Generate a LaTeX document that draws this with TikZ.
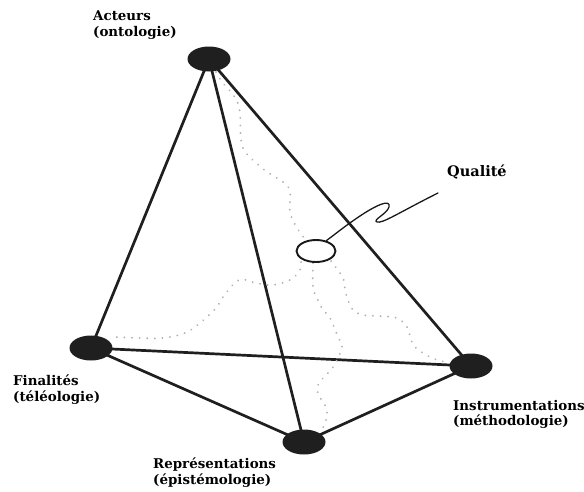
\documentclass[tikz,border=0pt]{standalone}
\usepackage{fontspec}
\setmainfont{DejaVu Serif}
\usetikzlibrary{shapes.geometric}
\pgfdeclarelayer{back}
\pgfsetlayers{back,main}
\begin{document}
\begin{tikzpicture}[x=1pt,y=-1pt,
  vertex/.style={ellipse,fill=black!88,minimum width=43pt,minimum height=25pt,inner sep=0pt},
  edge/.style={line width=2.7pt,black!88,line cap=round},
  hidden/.style={gray!60,line width=2pt,line cap=round,dash pattern=on 0.1pt off 7.5pt},
  label/.style={anchor=north west,align=left,inner sep=0pt,font=\bfseries\fontsize{13.4}{15.5}\selectfont},
  center/.style={ellipse,draw=black!90,fill=white,line width=1.9pt,minimum width=39pt,minimum height=22pt,inner sep=0pt}]
\useasboundingbox (0,0) rectangle (584,491);

% vertices of the tetrahedron
\node[vertex] (A) at (209,59) {};
\node[vertex] (F) at (91,348) {};
\node[vertex] (R) at (304,442) {};
\node[vertex] (I) at (471,366) {};

% edges, kept behind the vertices
\begin{pgfonlayer}{back}
\draw[edge] (A.center) -- (F.center);
\draw[edge] (A.center) -- (R.center);
\draw[edge] (A.center) -- (I.center);
\draw[edge] (F.center) -- (R.center);
\draw[edge] (F.center) -- (I.center);
\draw[edge] (R.center) -- (I.center);
\end{pgfonlayer}

% central quality point
\node[center] (Q) at (316,251) {};

% hidden links from the centre to each vertex
\begin{pgfonlayer}{back}
\draw[hidden] plot[smooth,tension=0.6] coordinates {(216,72) (222,82) (231,92) (237,101) (240,113) (241,140) (246,153) (262,168) (272,175) (283,182) (290,191) (290,212) (297,228) (306,240)};
\draw[hidden] plot[smooth,tension=0.6] coordinates {(301,262) (300,270) (290,280) (272,285) (256,283) (239,280) (223,297) (216,308) (200,323) (185,333) (163,338) (140,338) (115,337)};
\draw[hidden] plot[smooth,tension=0.6] coordinates {(313,263) (313,287) (317,298) (323,310) (330,318) (338,337) (342,347) (333,367) (319,383) (318,394) (325,405) (327,416) (322,430)};
\draw[hidden] plot[smooth,tension=0.6] coordinates {(331,261) (343,278) (345,290) (348,300) (353,310) (363,315) (377,316) (397,318) (407,327) (410,336) (415,347) (432,358) (450,363)};
\end{pgfonlayer}

% leader line to the quality label
\coordinate (Qend) at (438,193);
\draw[line width=1.3pt,black!90,line cap=round] (Q.45) .. controls (338,232) and (345,226) .. (360,216)
  .. controls (375,206) and (391,198) .. (389,207)
  .. controls (387,214) and (372,220) .. (377,222)
  .. controls (382,224) and (400,212) .. (Qend);

% labels
\node[label] (tA) at (93,11) {Acteurs\\(ontologie)};
\node[label] (tF) at (13,375) {Finalités\\(téléologie)};
\node[label] (tI) at (453,400) {Instrumentations\\(méthodologie)};
\node[label] (tR) at (153,458) {Représentations\\(épistémologie)};
\node[anchor=north west,inner sep=0pt,font=\bfseries\fontsize{14.5}{16}\selectfont] (tQ) at (447,165) {Qualité};
\end{tikzpicture}
\end{document}
